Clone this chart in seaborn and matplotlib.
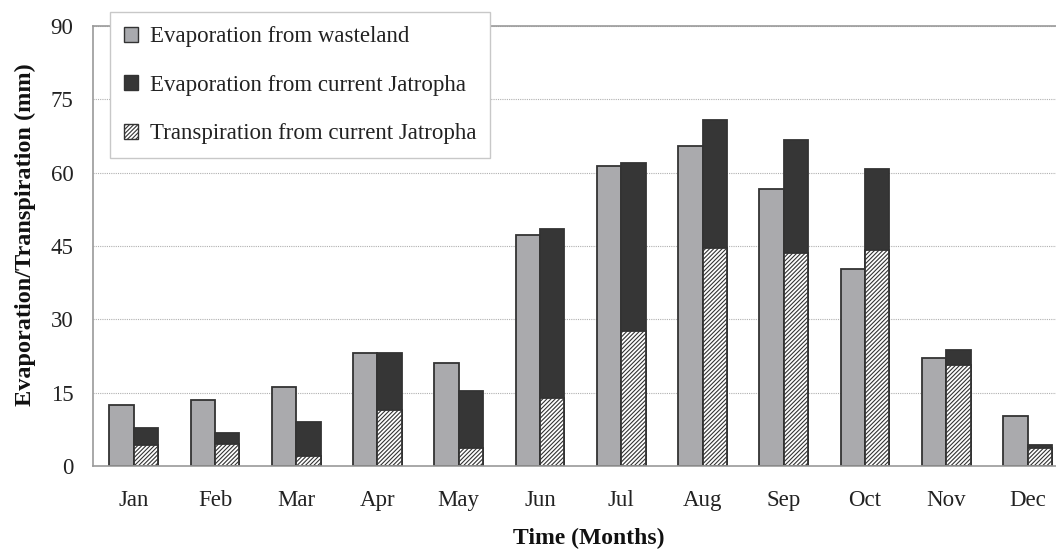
import numpy as np
import pandas as pd
import matplotlib
matplotlib.use("Agg")
import matplotlib.pyplot as plt
from matplotlib.patches import Patch
import seaborn as sns

# Data (mm)
months = ["Jan", "Feb", "Mar", "Apr", "May", "Jun",
          "Jul", "Aug", "Sep", "Oct", "Nov", "Dec"]
evap_wasteland = [12.5, 13.4, 16.2, 23.1, 21.0, 47.3,
                  61.4, 65.4, 56.7, 40.2, 22.0, 10.2]
evap_jatropha = [3.4, 2.2, 7.1, 11.6, 11.6, 34.5,
                 34.3, 26.1, 23.1, 16.6, 3.1, 0.7]
transp_jatropha = [4.3, 4.6, 2.0, 11.5, 3.7, 14.0,
                   27.7, 44.6, 43.6, 44.2, 20.6, 3.6]

labels = ["Evaporation from wasteland",
          "Evaporation from current Jatropha",
          "Transpiration from current Jatropha"]

GRAY = "#a9aaae"
DARK = "#363636"
EDGE = "#333333"
HATCH = "////////"

sns.set_style("white")
plt.rcParams["font.family"] = ["Liberation Serif", "DejaVu Serif"]
plt.rcParams["hatch.color"] = "#333333"
plt.rcParams["hatch.linewidth"] = 0.8

jat_total = np.array(evap_jatropha) + np.array(transp_jatropha)
df = pd.DataFrame({
    "month": months * 2,
    "value": list(evap_wasteland) + list(jat_total),
    "series": ["wasteland"] * 12 + ["jatropha"] * 12,
})

fig = plt.figure(figsize=(10.56, 5.49), dpi=100)
ax = fig.add_axes([0.0881, 0.1512, 0.9235, 0.8014])

sns.barplot(data=df, x="month", y="value", hue="series",
            hue_order=["wasteland", "jatropha"],
            palette=[GRAY, DARK], width=0.6, gap=0,
            edgecolor=EDGE, linewidth=1.3, legend=False, ax=ax)

# hatched transpiration part sits at the bottom of the Jatropha bar
x = np.arange(len(months))
ax.bar(x + 0.15, transp_jatropha, width=0.3, color="white",
       edgecolor=EDGE, linewidth=1.3, hatch=HATCH)

ax.set_xlim(-0.5, 11.5)
ax.set_ylim(0, 90)
ax.set_yticks(np.arange(0, 91, 15))
ax.yaxis.grid(True, linestyle=(0, (1, 1)), color="#b0b0b0", linewidth=0.8)
ax.set_axisbelow(True)

for side in ["left", "bottom", "top"]:
    ax.spines[side].set_color("#9a9a9a")
    ax.spines[side].set_linewidth(1.2)
ax.spines["right"].set_visible(False)

ax.set_xticks(x)
ax.set_xticklabels(months)
ax.set_xticks(np.arange(-0.5, 12, 1), minor=True)
ax.tick_params(axis="x", which="major", length=0, pad=17, labelsize=16.5,
               labelcolor="#222222")
ax.tick_params(axis="x", which="minor", length=9, width=1.2,
               color="#9a9a9a", direction="out")
ax.tick_params(axis="y", length=8, width=1.2, color="#9a9a9a",
               direction="out", pad=6, labelsize=16.5, labelcolor="#222222")

ax.set_xlabel("Time (Months)", fontsize=17, fontweight="bold",
              color="#111111")
ax.xaxis.set_label_coords(0.508, -0.14)
ax.set_ylabel("Evaporation/Transpiration (mm)", fontsize=17.5,
              fontweight="bold", color="#111111")
ax.yaxis.set_label_coords(-0.058, 0.525)

handles = [
    Patch(facecolor=GRAY, edgecolor=EDGE, linewidth=1.0),
    Patch(facecolor=DARK, edgecolor=EDGE, linewidth=1.0),
    Patch(facecolor="white", edgecolor=EDGE, linewidth=1.0, hatch=HATCH),
]
leg = fig.legend(handles, labels, loc="upper left",
                 bbox_to_anchor=(0.104, 0.978), fontsize=16.5,
                 frameon=True, fancybox=False, framealpha=1,
                 labelspacing=1.2, handlelength=0.62, handleheight=0.62,
                 handletextpad=0.5, borderpad=0.62, borderaxespad=0)
leg.get_frame().set_edgecolor("#c8c8c8")
leg.get_frame().set_linewidth(1.0)
for t in leg.get_texts():
    t.set_color("#222222")

fig.savefig("out.png", dpi=100)
